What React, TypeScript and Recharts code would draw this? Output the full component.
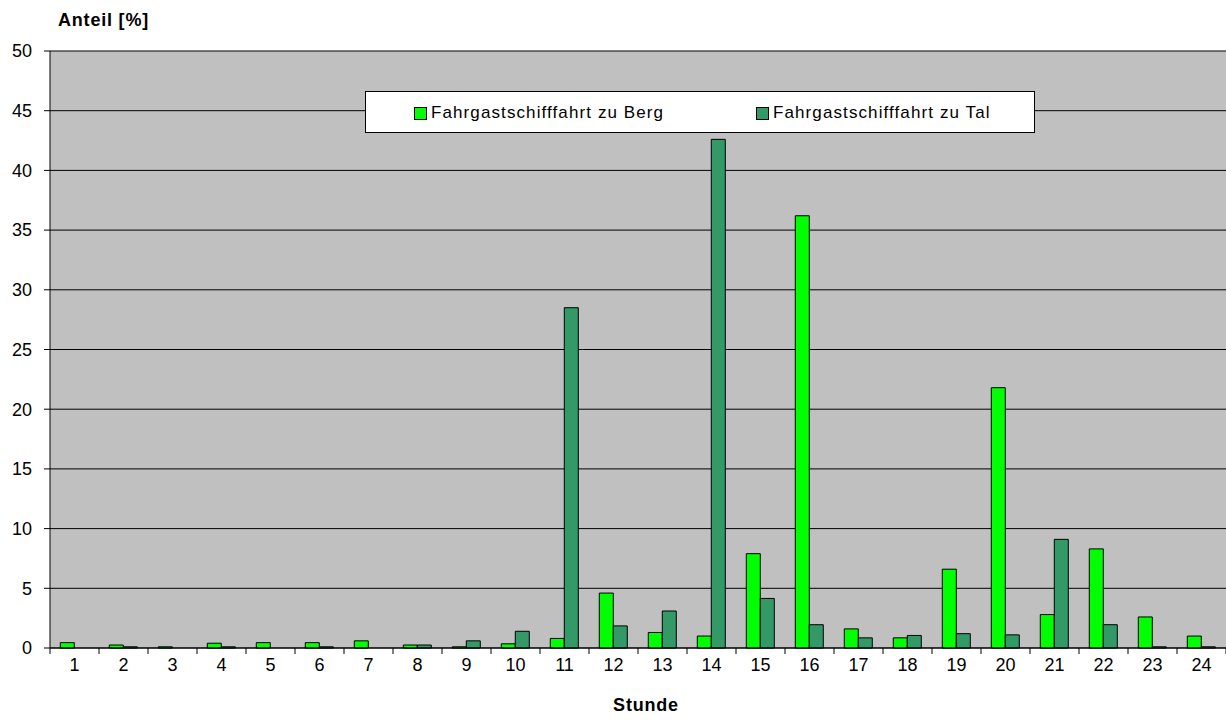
import { Bar, BarChart, CartesianGrid, XAxis, YAxis } from "recharts";

const hours = ["1", "2", "3", "4", "5", "6", "7", "8", "9", "10", "11", "12", "13", "14", "15", "16", "17", "18", "19", "20", "21", "22", "23", "24"];
const bergValues = [0.45, 0.25, 0.1, 0.4, 0.45, 0.45, 0.6, 0.25, 0.1, 0.35, 0.8, 4.6, 1.3, 1.0, 7.9, 36.2, 1.6, 0.85, 6.6, 21.8, 2.8, 8.3, 2.6, 1.0];
const talValues = [0, 0.1, 0, 0.1, 0, 0.1, 0, 0.25, 0.6, 1.4, 28.5, 1.85, 3.1, 42.6, 4.15, 1.95, 0.85, 1.05, 1.2, 1.1, 9.1, 1.95, 0.1, 0.1];
const yTicks = [0, 5, 10, 15, 20, 25, 30, 35, 40, 45, 50];

const bergName = "Fahrgastschifffahrt zu Berg";
const talName = "Fahrgastschifffahrt zu Tal";
const bergFill = "#00ff00";
const talFill = "#339966";

const data = hours.map((h, i) => ({ hour: h, berg: bergValues[i], tal: talValues[i] }));

const W = 1226;
const H = 727;
const axisW = 50;
const band = (W - axisW) / hours.length;
const font = "'Liberation Sans', Arial, sans-serif";

const HourTick = (props: any) => {
  const { x, y, payload, index } = props;
  return (
    <g>
      <line x1={x - band / 2} x2={x - band / 2} y1={y - 8} y2={y - 2} stroke="#000" />
      {index === hours.length - 1 && <line x1={x + band / 2} x2={x + band / 2} y1={y - 8} y2={y - 2} stroke="#000" />}
      <text x={x} y={y + 15} textAnchor="middle" fontSize={18} fill="#000" fontFamily={font}>
        {payload.value}
      </text>
    </g>
  );
};

const LegendBox = () => (
  <div
    style={{
      position: "absolute",
      left: 365,
      top: 91,
      width: 670,
      height: 42,
      boxSizing: "border-box",
      background: "#fff",
      border: "1px solid #000",
      fontFamily: font,
      fontSize: 17,
      letterSpacing: 1.1,
    }}
  >
    {[
      { name: bergName, fill: bergFill, left: 48 },
      { name: talName, fill: talFill, left: 390 },
    ].map((it) => (
      <div key={it.name} style={{ position: "absolute", left: it.left, top: 10, display: "flex", alignItems: "center", lineHeight: "21px" }}>
        <span style={{ width: 11, height: 11, background: it.fill, border: "1px solid #000", marginRight: 4, marginTop: 2 }} />
        <span>{it.name}</span>
      </div>
    ))}
  </div>
);

export default function App() {
  return (
    <div style={{ position: "absolute", left: 0, top: 0, width: W, height: H, background: "#fff" }}>
      <div style={{ position: "absolute", left: 58, top: 10, fontFamily: font, fontWeight: "bold", fontSize: 18, letterSpacing: 0.8 }}>Anteil [%]</div>
      <div style={{ position: "absolute", left: 0, width: W, textAlign: "center", top: 695, fontFamily: font, fontWeight: "bold", fontSize: 18, letterSpacing: 0.8, paddingLeft: 66, boxSizing: "border-box" }}>
        Stunde
      </div>
      <BarChart
        width={W}
        height={H}
        data={data}
        margin={{ top: 51, right: 0, bottom: 49, left: 0 }}
        barGap={0}
        barCategoryGap="21%"
      >
        <CartesianGrid vertical={false} fill="#c0c0c0" stroke="#000" strokeOpacity={1} />
        <XAxis
          dataKey="hour"
          height={30}
          axisLine={{ stroke: "#000" }}
          tickLine={false}
          tick={<HourTick />}
          interval={0}
        />
        <YAxis
          width={axisW}
          domain={[0, 50]}
          ticks={yTicks}
          interval={0}
          axisLine={{ stroke: "#000" }}
          tickLine={{ stroke: "#000" }}
          tickSize={6}
          tickMargin={12}
          tick={{ fontSize: 18, fill: "#000", fontFamily: font }}
        />
        <Bar dataKey="berg" name={bergName} fill={bergFill} stroke="#000" strokeWidth={1} isAnimationActive={false} />
        <Bar dataKey="tal" name={talName} fill={talFill} stroke="#000" strokeWidth={1} isAnimationActive={false} />
      </BarChart>
      <LegendBox />
    </div>
  );
}
